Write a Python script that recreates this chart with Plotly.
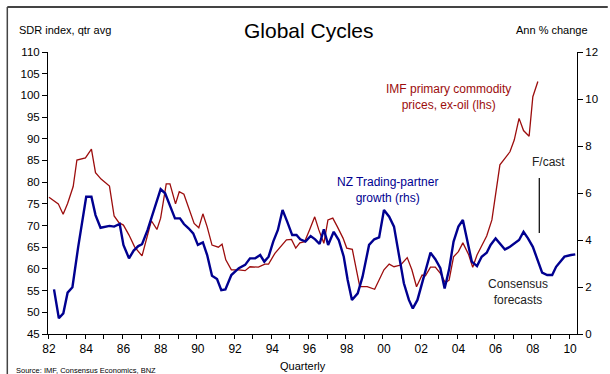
import plotly.graph_objects as go

# IMF primary commodity prices, ex-oil (SDR index, lhs)
red_x = [1982.0, 1982.5, 1982.76, 1983.0, 1983.3, 1983.5, 1983.96, 1984.28, 1984.5, 1984.8,
         1985.25, 1985.5, 1985.75, 1986.0, 1986.3, 1986.6, 1987.0, 1987.25, 1987.5, 1987.8,
         1988.0, 1988.3, 1988.5, 1988.8, 1989.0, 1989.25, 1989.6, 1989.8, 1990.05, 1990.27,
         1990.5, 1990.76, 1991.1, 1991.3, 1991.5, 1991.8, 1992.2, 1992.54, 1992.8, 1993.25,
         1993.6, 1993.8, 1994.14, 1994.5, 1994.76, 1995.03, 1995.26, 1995.48, 1995.74, 1996.0,
         1996.28, 1996.5, 1996.77, 1996.99, 1997.25, 1997.5, 1997.8, 1998.0, 1998.3, 1998.7,
         1999.1, 1999.5, 1999.74, 2000.0, 2000.28, 2000.54, 2000.9, 2001.25, 2001.5, 2001.75,
         2002.05, 2002.23, 2002.5, 2002.76, 2003.03, 2003.3, 2003.5, 2003.74, 2004.0, 2004.24,
         2004.54, 2004.77, 2005.0, 2005.25, 2005.52, 2005.8, 2006.0, 2006.23, 2006.5, 2006.77,
         2007.0, 2007.26, 2007.5, 2007.8, 2008.0, 2008.27]
red_y = [76.5, 75.0, 72.6, 75.1, 79.0, 85.1, 85.6, 87.6, 82.2, 80.7,
         79.1, 72.2, 70.7, 70.1, 67.8, 65.1, 63.0, 67.4, 71.1, 69.1,
         71.7, 79.6, 79.6, 75.0, 77.8, 77.2, 72.8, 70.5, 69.5, 72.7,
         69.7, 65.5, 65.0, 65.7, 62.1, 59.8, 59.8, 59.6, 60.5, 60.4,
         61.1, 61.1, 63.6, 65.5, 66.7, 66.8, 64.8, 66.0, 66.3, 69.0,
         72.0, 69.0, 65.9, 71.3, 71.7, 69.7, 67.1, 64.8, 64.5, 55.9,
         55.9, 55.3, 57.4, 59.8, 61.1, 60.5, 60.9, 62.6, 59.8, 55.9,
         58.6, 58.4, 60.4, 60.4, 59.0, 56.8, 57.4, 62.8, 64.0, 66.0,
         63.4, 60.4, 63.2, 65.5, 67.6, 71.3, 77.4, 84.0, 85.5, 87.0,
         89.7, 94.7, 91.9, 90.6, 99.7, 103.2]

# NZ trading-partner growth (Ann % change, rhs), incl. consensus forecasts
blue_x = [1982.27, 1982.53, 1982.77, 1983.0, 1983.26, 1983.57, 1984.0, 1984.28, 1984.5, 1984.77,
          1985.25, 1985.5, 1985.8, 1986.0, 1986.3, 1986.55, 1986.8, 1987.0, 1987.3, 1987.65,
          1988.0, 1988.24, 1988.5, 1988.77, 1989.04, 1989.25, 1989.5, 1989.75, 1990.0, 1990.27,
          1990.5, 1990.76, 1991.03, 1991.26, 1991.48, 1991.8, 1992.2, 1992.54, 1992.8, 1993.08,
          1993.35, 1993.57, 1993.8, 1994.05, 1994.3, 1994.55, 1994.8, 1995.07, 1995.3, 1995.5,
          1995.78, 1996.06, 1996.3, 1996.54, 1996.77, 1997.0, 1997.3, 1997.57, 1997.84, 1998.05,
          1998.28, 1998.59, 1998.85, 1999.2, 1999.48, 1999.74, 2000.0, 2000.28, 2000.54, 2000.8,
          2001.07, 2001.34, 2001.55, 2001.8, 2002.05, 2002.32, 2002.5, 2002.76, 2003.03, 2003.26,
          2003.5, 2003.74, 2004.0, 2004.24, 2004.45, 2004.72, 2005.0, 2005.25, 2005.52, 2005.73,
          2006.0, 2006.23, 2006.5, 2006.77, 2007.04, 2007.26, 2007.5, 2007.74, 2008.0, 2008.27,
          2008.5, 2008.77, 2009.04, 2009.25, 2009.7, 2010.05, 2010.28]
blue_y = [1.9, 0.67, 0.88, 1.76, 1.99, 3.71, 5.84, 5.84, 5.06, 4.52,
          4.6, 4.57, 4.68, 3.79, 3.22, 3.55, 3.74, 3.82, 4.43, 5.28,
          6.16, 5.99, 5.45, 4.92, 4.92, 4.68, 4.5, 4.28, 3.79, 3.9,
          3.36, 2.48, 2.34, 1.87, 1.9, 2.51, 2.8, 2.94, 3.22, 3.22,
          3.36, 3.08, 3.29, 3.93, 4.43, 5.28, 4.78, 4.21, 4.21, 4.03,
          3.93, 4.17, 4.03, 3.83, 4.45, 3.79, 4.35, 4.0, 3.29, 2.3,
          1.45, 1.73, 2.44, 3.79, 4.03, 4.11, 5.28, 4.99, 4.57, 3.29,
          2.16, 1.45, 1.09, 1.45, 2.2, 3.0, 3.46, 3.18, 2.8, 1.94,
          2.75, 3.93, 4.57, 4.85, 4.07, 3.08, 2.89, 3.29, 3.46, 3.79,
          4.07, 3.86, 3.6, 3.71, 3.89, 4.0, 4.35, 4.07, 3.71, 3.15,
          2.61, 2.51, 2.51, 2.86, 3.29, 3.36, 3.39]

x_tick_years = list(range(1982, 2011, 2))
x_tick_labels = [f"{y % 100:02d}" for y in x_tick_years]
left_ticks = list(range(45, 111, 5))
right_ticks = list(range(0, 13, 2))

W, H = 610, 374
ML, MR, MT, MB = 48, 29, 52, 40
PW, PH = W - ML - MR, H - MT - MB


def px(x):
    return (x - ML) / PW


def py(y):
    return (H - MB - y) / PH


FONT = "Liberation Sans, Arial, sans-serif"
RED = "#9c0d0d"
BLUE = "#000090"

fig = go.Figure()
fig.add_trace(go.Scatter(x=red_x, y=red_y, mode="lines", yaxis="y",
                         line=dict(color=RED, width=1.3), showlegend=False,
                         hoverinfo="skip"))
fig.add_trace(go.Scatter(x=blue_x, y=blue_y, mode="lines", yaxis="y2",
                         line=dict(color=BLUE, width=2.4), showlegend=False,
                         hoverinfo="skip"))

fig.update_layout(
    width=W, height=H,
    margin=dict(l=ML, r=MR, t=MT, b=MB, pad=0),
    paper_bgcolor="white", plot_bgcolor="white",
    font=dict(family=FONT, color="black", size=11),
    xaxis=dict(range=[1981.947, 2010.373], tickmode="array",
               tickvals=x_tick_years, ticktext=x_tick_labels,
               ticks="", showline=True, linecolor="black", linewidth=1,
               showgrid=False, zeroline=False, tickfont=dict(size=12),
               ticklabelstandoff=4,
               minor=dict(tickmode="linear", tick0=1981.947, dtick=1,
                          ticks="outside", ticklen=4, tickcolor="black",
                          showgrid=False)),
    yaxis=dict(range=[45, 110], tickmode="array", tickvals=left_ticks,
               ticks="outside", ticklen=5, tickcolor="black",
               showline=True, linecolor="black", linewidth=1,
               showgrid=False, zeroline=False, tickfont=dict(size=11.5)),
    yaxis2=dict(range=[0, 12], tickmode="array", tickvals=right_ticks,
                overlaying="y", side="right",
                ticks="outside", ticklen=5, tickcolor="black",
                showline=True, linecolor="black", linewidth=1,
                showgrid=False, zeroline=False, tickfont=dict(size=11.5)),
)

ann = []
# outside texts
ann.append(dict(text="Global Cycles", x=px(311), y=py(30), xref="paper", yref="paper",
                showarrow=False, font=dict(size=21), xanchor="center", yanchor="middle"))
ann.append(dict(text="SDR index, qtr avg", x=px(17), y=py(30), xref="paper", yref="paper",
                showarrow=False, font=dict(size=11), xanchor="left", yanchor="middle"))
ann.append(dict(text="Ann % change", x=px(594), y=py(30), xref="paper", yref="paper",
                showarrow=False, font=dict(size=11), xanchor="right", yanchor="middle"))
ann.append(dict(text="Quarterly", x=px(305), y=py(366), xref="paper", yref="paper",
                showarrow=False, font=dict(size=11), xanchor="center", yanchor="middle"))
ann.append(dict(text="Source: IMF, Consensus Economics, BNZ", x=px(14), y=py(370),
                xref="paper", yref="paper", showarrow=False, font=dict(size=7.5),
                xanchor="left", yanchor="middle"))
# inside labels
ann.append(dict(text="IMF primary commodity<br>prices, ex-oil (lhs)", x=px(452), y=py(97),
                xref="paper", yref="paper", showarrow=False,
                font=dict(size=12, color=RED), xanchor="center", yanchor="middle"))
ann.append(dict(text="NZ Trading-partner<br>growth (rhs)", x=px(390), y=py(189.5),
                xref="paper", yref="paper", showarrow=False,
                font=dict(size=12, color=BLUE), xanchor="center", yanchor="middle"))
ann.append(dict(text="F/cast", x=px(552), y=py(162), xref="paper", yref="paper",
                showarrow=False, font=dict(size=12, color="#222"),
                xanchor="center", yanchor="middle"))
ann.append(dict(text="Consensus<br>forecasts", x=px(522), y=py(291.5), xref="paper",
                yref="paper", showarrow=False, font=dict(size=12, color="#222"),
                xanchor="center", yanchor="middle"))
fig.update_layout(annotations=ann)

shapes = [
    dict(type="line", xref="paper", yref="paper", x0=px(543), x1=px(543),
         y0=py(178), y1=py(233), line=dict(color="black", width=1.2)),
    # outer frame (top and left edges)
    dict(type="line", xref="paper", yref="paper", x0=px(7), x1=px(612),
         y0=py(7), y1=py(7), line=dict(color="#444", width=2)),
    dict(type="line", xref="paper", yref="paper", x0=px(7), x1=px(7),
         y0=py(7), y1=py(376), line=dict(color="#444", width=1.5)),
]
fig.update_layout(shapes=shapes)

fig.write_html("out.html")
